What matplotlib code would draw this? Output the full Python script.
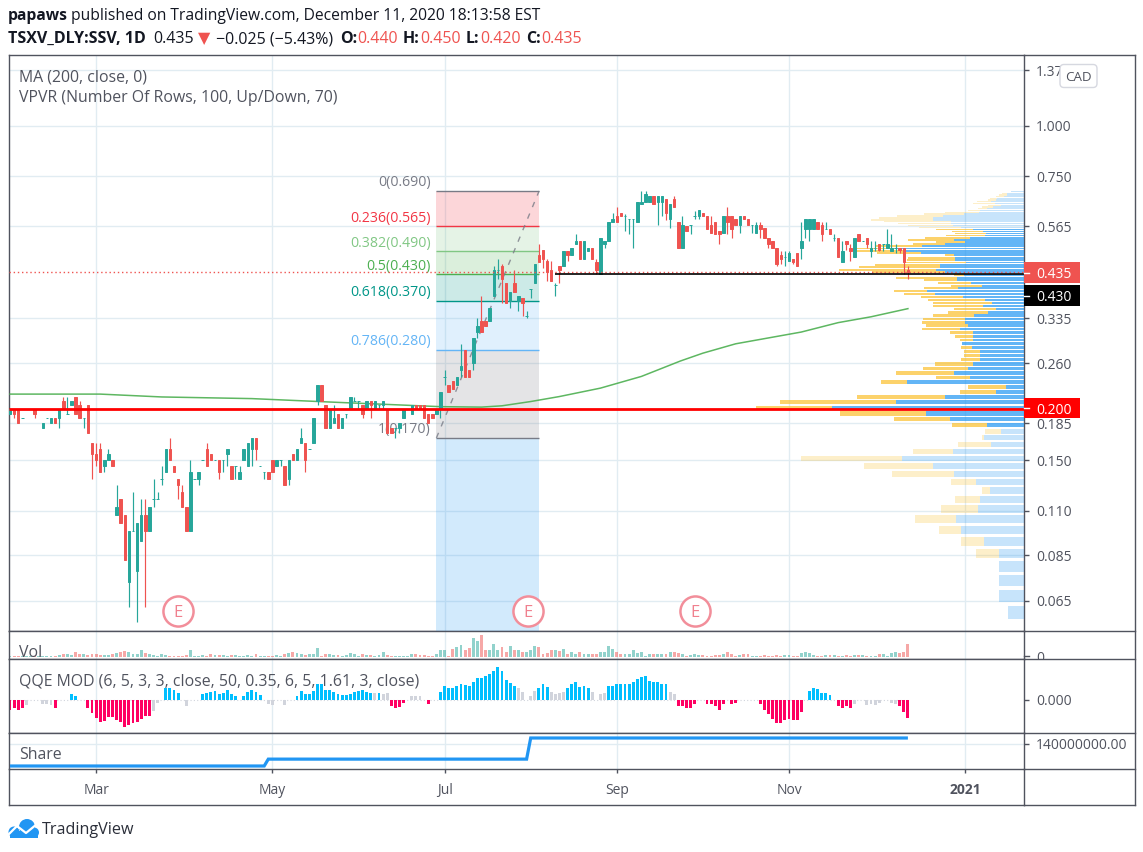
import matplotlib
matplotlib.use("Agg")
import matplotlib.pyplot as plt
from matplotlib.patches import Rectangle, FancyBboxPatch, Circle
from matplotlib.lines import Line2D
from matplotlib.ticker import FixedLocator, NullLocator, FixedFormatter
from matplotlib.transforms import Bbox

W, H = 1143, 852
plt.rcParams['font.family'] = ['Open Sans', 'DejaVu Sans']

opens = [.195,.20,.20,.19,.20,.20,.20,.20,.18,.19,.185,.19,.19,.21,.195,.205,.215,.205,.19,.205,
 .165,.155,.16,.145,.15,.15,.11,.12,.11,.075,.10,.08,.095,.11,.10,.12,.12,.135,.14,.16,
 .145,.135,.125,.115,.10,.135,.135,.15,.16,.155,.15,.15,.15,.155,.145,.145,.135,.15,.145,.16,
 .17,.145,.14,.14,.15,.145,.15,.145,.135,.155,.15,.165,.165,.16,.165,.21,.23,.205,.18,.185,
 .195,.18,.195,.20,.21,.21,.205,.20,.21,.20,.205,.205,.20,.18,.18,.18,.19,.20,.195,.205,
 .205,.205,.195,.195,.195,.20,.24,.23,.235,.23,.25,.28,.25,.26,.31,.33,.33,.33,.38,.44,
 .45,.41,.37,.41,.37,.375,.34,.395,.41,.48,.495,.465,.44,.405,.45,.45,.49,.48,.51,.52,
 .47,.49,.50,.46,.43,.51,.52,.58,.60,.61,.60,.59,.59,.58,.64,.65,.65,.67,.65,.65,
 .66,.59,.66,.58,.50,.565,.57,.60,.60,.61,.60,.57,.58,.55,.545,.60,.60,.59,.57,.60,
 .59,.57,.545,.57,.56,.53,.52,.50,.48,.475,.465,.47,.485,.50,.555,.555,.555,.58,.57,.555,
 .555,.53,.53,.46,.52,.50,.475,.54,.52,.53,.49,.50,.51,.51,.50,.49,.50,.50,.50,.44]
highs = [.20,.20,.20,.19,.20,.20,.20,.20,.185,.19,.19,.19,.20,.215,.215,.21,.215,.21,.19,.205,
 .165,.165,.165,.15,.16,.15,.13,.12,.11,.10,.125,.105,.12,.12,.115,.135,.125,.145,.16,.17,
 .145,.135,.13,.115,.15,.135,.14,.15,.165,.155,.15,.15,.15,.16,.145,.145,.145,.16,.165,.17,
 .17,.145,.14,.14,.15,.15,.15,.145,.15,.155,.16,.18,.165,.16,.19,.23,.23,.205,.20,.205,
 .195,.19,.195,.215,.215,.21,.205,.21,.21,.21,.205,.21,.20,.18,.18,.185,.20,.20,.205,.205,
 .205,.205,.195,.195,.20,.22,.25,.23,.235,.24,.29,.28,.25,.30,.335,.38,.33,.355,.45,.47,
 .455,.41,.39,.44,.38,.375,.35,.395,.455,.51,.495,.47,.465,.41,.45,.49,.49,.50,.54,.52,
 .52,.50,.50,.47,.53,.52,.58,.61,.63,.61,.605,.59,.59,.65,.69,.69,.67,.67,.67,.67,
 .66,.64,.67,.58,.60,.565,.57,.615,.62,.61,.60,.60,.58,.55,.60,.63,.60,.59,.60,.60,
 .59,.57,.58,.58,.56,.53,.52,.50,.49,.49,.49,.47,.485,.58,.59,.59,.59,.58,.58,.58,
 .555,.54,.53,.52,.52,.51,.53,.54,.52,.53,.52,.52,.51,.51,.555,.54,.51,.50,.50,.45]
lows = [.195,.19,.185,.19,.20,.20,.19,.20,.18,.19,.185,.185,.18,.20,.195,.205,.195,.19,.18,.175,
 .135,.145,.14,.14,.15,.145,.11,.105,.085,.065,.10,.06,.095,.065,.10,.115,.12,.13,.14,.15,
 .14,.12,.115,.10,.10,.135,.13,.15,.145,.15,.15,.135,.14,.145,.135,.135,.135,.15,.145,.145,
 .15,.145,.135,.135,.14,.145,.145,.13,.13,.15,.15,.165,.14,.16,.165,.205,.21,.18,.18,.185,
 .18,.18,.19,.20,.21,.20,.19,.20,.19,.20,.20,.20,.175,.175,.17,.175,.19,.20,.195,.20,
 .20,.19,.185,.19,.195,.19,.23,.22,.225,.23,.24,.24,.24,.25,.30,.31,.32,.33,.38,.42,
 .365,.365,.355,.39,.35,.34,.335,.375,.41,.46,.445,.415,.415,.38,.41,.45,.465,.48,.51,.47,
 .47,.49,.47,.43,.43,.50,.52,.58,.58,.60,.55,.54,.50,.58,.64,.65,.65,.64,.57,.60,
 .585,.56,.63,.50,.50,.55,.54,.59,.59,.60,.555,.545,.54,.51,.545,.54,.53,.57,.545,.59,
 .57,.545,.545,.53,.53,.50,.50,.45,.455,.45,.465,.455,.45,.47,.53,.52,.555,.555,.52,.555,
 .54,.52,.475,.46,.495,.465,.475,.52,.52,.50,.475,.49,.49,.49,.50,.49,.485,.485,.43,.42]
closes = [.20,.195,.185,.19,.20,.20,.195,.20,.185,.19,.19,.185,.20,.20,.195,.21,.195,.19,.19,.175,
 .155,.15,.14,.15,.155,.145,.115,.105,.085,.10,.10,.105,.11,.10,.115,.12,.12,.135,.16,.15,
 .14,.13,.115,.10,.14,.135,.14,.15,.145,.15,.15,.14,.15,.16,.135,.145,.14,.16,.165,.17,
 .16,.145,.14,.135,.14,.15,.15,.13,.15,.15,.16,.17,.15,.16,.19,.23,.21,.18,.20,.19,
 .18,.19,.195,.215,.21,.21,.195,.21,.205,.21,.205,.21,.175,.175,.18,.185,.20,.20,.205,.20,
 .20,.19,.185,.19,.20,.22,.24,.22,.225,.24,.255,.24,.24,.30,.32,.31,.32,.355,.44,.44,
 .42,.365,.39,.39,.38,.365,.34,.395,.455,.46,.47,.435,.415,.405,.44,.49,.48,.50,.52,.47,
 .52,.50,.47,.44,.53,.52,.58,.59,.58,.60,.60,.59,.59,.65,.65,.68,.67,.64,.67,.67,
 .61,.64,.63,.50,.57,.55,.57,.60,.62,.60,.555,.545,.54,.54,.60,.58,.555,.57,.60,.59,
 .57,.57,.57,.555,.53,.51,.50,.455,.47,.475,.485,.46,.45,.52,.59,.59,.59,.555,.54,.555,
 .54,.53,.475,.49,.51,.49,.53,.52,.52,.51,.50,.50,.495,.51,.51,.50,.50,.495,.46,.435]

volumes = [4,4,4,4,4,3,3,3,3,4, 4,4,6,8,8,6,14,10,8,6, 10,8,6,6,5,10,12,15,17,14,
 10,8,20,12,8,6,4,8,6,4, 4,4,4,6,20,2,4,5,4,8, 6,5,7,4,5,6,4,4,5,4,
 10,4,4,4,4,6,4,10,12,14, 12,10,6,8,10,26,4,8,8,6, 6,4,6,12,8,4,10,5,6,4,
 6,14,5,4,4,4,4,4,8,8, 6,6,4,4,8, 20,20,3,24,30,36,22,26,56,48,65,20,20,38,20,30,14,32,22,20,
 16,14,20,32,30,10,12,22,20,18, 24,8,16,8,14,10,10,8,10,16, 16,32,24,14,8,10,8,22,12,16,
 4,10,10,10,10,10,14,14,12,8, 4,5,8,7,7,4,4,6,6,8, 16,10,4,6,8,8,4,4,4,6,
 4,4,6,4,6,6,4,4,12,14, 12,6,3,4,6,6,6,4,3,6, 4,6,6,6,4,4,4,8,10,4, 12,16,12,16,40]

qqe_values = [-32,-26,-30,-26,-16,0,0,0,-12,-14, -16,-24,0,0,0,16,10,0,0,-24,
 -40,-55,-68,-64,-53,-53,-60,-68,-82,-75, -70,-66,-58,-50,-50,-34,-10,0,34,34,
 28,20,0,-20,0,0,0,16,20,22, 25,18,20,28,18,12,0,12,22,30,
 24,13,0,-12,-16,0,0,-16,0,0, 10,25,18,16,25,46,46,30,28,24,
 18,14,14,16,24,26,28,22,20,20, 20,16,20,-20,-25,-22,-10,0,10,12,
 12,0,-13,0,0,22,40,36,34,40, 48,44,40,54,66,66,70,78,85,97,
 85,60,50,42,34,22,0,12,27,36, 46,38,22,16,20,24,36,46,52,38,
 40,34,22,0,16,20,40,40,46,48, 46,46,54,62,68,70,56,52,52,46,
 46,22,16,-20,-20,-24,-24,-14,0,0, -14,-12,-20,-32,-14,0,-12,-10,0,0,
 0,0,0,-14,-30,-44,-58,-70,-70,-62, -58,-60,-62,-36,0,26,34,32,20,20,
 14,0,-18,-26,-20,-26,-14,0,0,-16, -14,-16,-10,0,0,-10,-14,-20,-36,-54]
qqe_neutral = [4,8,9,10,35,36,43,63,64,67,89,91,92,98,99,100,124,125,127,128,132,133,134,135,
 142,144,145,161,162,206,209,210,211,212,215,216]

share_levels = [104e6, 115e6, 148.8e6]
share_bars = [63, 64, 93]

ma_index = [0,22,37,59,80,95,105,115,120,127,134,144,154,163.5,169,177,193,202,210,219]
ma_price = [.218,.218,.2145,.2125,.208,.205,.203,.2025,.204,.209,.215,.2255,.241,.263,.275,.29,.31,.327,.338,.354]

vp_low, vp_step = 0.06, 0.0063
vp_up = [16,25,25,25,25,40,63,68,46,44,34,48,70,91,122,71,33,40,23,37,74,98,192,128,
 79,28,18,117,54,70,56,51,44,44,44,52,62,51,51,51,
 64,56,59,59,50,36,28,41,32,39,61,89,97,66,42,53,67,67,
 60,79,88,84,84,58,
 69,69,70,103,121,129,102,79,59,70,54,39,38,41,51,
 63,71,73,73,91,91,81,60,45,44,37,31,23,29,33,28,27,20,17,17,13]
vp_down = [0,0,0,0,23,23,22,41,37,25,8,25,62,69,101,40,33,2,16,35,56,86,76,116,
 88,36,38,26,34,58,45,38,19,16,16,11,0,13,18,23,
 38,42,43,42,41,40,42,50,59,57,42,31,33,34,31,33,33,61,
 10,73,97,81,65,62,
 48,47,9,44,48,40,46,32,29,46,45,39,31,31,37,
 42,45,53,67,62,54,46,40,34,12,9,11,13,22,14,8,7,8,8,5,0]
vp_value_area = (19, 78)

fib_ratio = ['0', '0.236', '0.382', '0.5', '0.618', '0.786', '1']
fib_price = [.69, .565, .49, .43, .37, .28, .17]
fib_color = ['#787b86', '#f23645', '#81c784', '#4caf50', '#009688', '#64b5f6', '#787b86']
fib_span = (104.0, 129.05)

price_ticks = [1.37, 1.0, .75, .565, .335, .26, .185, .15, .1125, .0875, .0675]
price_labels = ['1.37', '1.000', '0.750', '0.565', '0.335', '0.260', '0.185', '0.150', '0.110', '0.085', '0.065']
month_ticks = [21, 64, 106, 148, 190, 233]
month_labels = ['Mar', 'May', 'Jul', 'Sep', 'Nov', '2021']
earnings_index = [41, 126.3, 167]
earnings_price = .0637
support_price, resistance_price, last_price = .20, .43, .435

assert all(len(a) == 220 for a in (opens, highs, lows, closes, volumes, qqe_values))
assert len(vp_up) == len(vp_down) == 100

TEAL, RED = '#26a69a', '#ef5350'
FRAME, GRID, TXT = '#50535e', '#e1ecf2', '#50535e'
L, R = 9, 1024
XLIM = ((L - 10) / 4.1, (R - 10) / 4.1)
PRICE_LIM = (0.05686, 1.4925)


def panel(top, bottom, zorder=1):
    a = fig.add_axes([L / W, 1 - bottom / H, (R - L) / W, (bottom - top) / H], zorder=zorder)
    a.set_xlim(*XLIM)
    return a


def style(a):
    for s in a.spines.values():
        s.set_color(FRAME)
        s.set_linewidth(1.0)
    a.xaxis.set_major_locator(FixedLocator(month_ticks))
    a.grid(True, axis='x', color=GRID, lw=1)
    a.set_axisbelow(True)
    a.tick_params(axis='x', length=0, labelbottom=False)
    a.yaxis.tick_right()
    a.tick_params(axis='y', colors=FRAME, length=3.6, width=1, pad=5, labelsize=10, labelcolor=TXT)


fig = plt.figure(figsize=(W / 100, H / 100), dpi=100, facecolor='white')

# ---- price pane, grid layer
ax = panel(55, 631, 1)
ax.set_yscale('log')
ax.set_ylim(*PRICE_LIM)
style(ax)
ax.yaxis.set_major_locator(FixedLocator(price_ticks))
ax.yaxis.set_major_formatter(FixedFormatter(price_labels))
ax.yaxis.set_minor_locator(NullLocator())
ax.grid(True, axis='y', color=GRID, lw=1)

# ---- volume profile layer
vp = ax.twiny()
vp.set_zorder(2)
vp.set_xlim(R - L, 0)
vp.axis('off')
for k, (u, d) in enumerate(zip(vp_up, vp_down)):
    lo = vp_low + vp_step * k
    al = .7 if vp_value_area[0] <= k <= vp_value_area[1] else .25
    vp.barh(lo + .12 * vp_step, u, height=.76 * vp_step, align='edge', color='#2196f3', alpha=al, lw=0)
    if d:
        vp.barh(lo + .12 * vp_step, d, left=u, height=.76 * vp_step, align='edge', color='#fbc02d', alpha=al, lw=0)

# ---- candles layer
cx = panel(55, 631, 3)
cx.set_yscale('log')
cx.set_ylim(*PRICE_LIM)
cx.axis('off')
cx.patch.set_visible(False)

edges = fib_price
a0, a1 = fib_span
for hi, lo, col in zip(edges[:-1], edges[1:], fib_color[1:]):
    cx.fill_between([a0, a1], lo, hi, color=col, alpha=.2, lw=0, zorder=1)
cx.fill_between([a0, a1], PRICE_LIM[0], edges[-1], color='#2196f3', alpha=.2, lw=0, zorder=1)
cx.hlines(fib_price, a0, a1, colors=fib_color, lw=1, zorder=1.5)
cx.plot([a0, a1], [fib_price[-1], fib_price[0]], color='#787b86', lw=1, ls=(0, (4, 5)), alpha=.8, zorder=1.6)
for r_, p_, c_ in zip(fib_ratio, fib_price, fib_color):
    cx.annotate(f'{r_}({p_:.3f})', (a0, p_), xytext=(-4, 0.4), textcoords='offset points', ha='right', va='bottom',
                fontsize=10.2, color=c_, zorder=1.7)

cx.plot(ma_index, ma_price, color='#4caf50', lw=1.1, alpha=.9, zorder=2)

for i, (o, h, l, c) in enumerate(zip(opens, highs, lows, closes)):
    col = TEAL if c >= o else RED
    cx.vlines(i, l, h, colors=col, lw=.85, zorder=3)
    cx.bar(i, max(abs(c - o), 1e-6), bottom=min(o, c), width=.62, color=col, edgecolor=col, lw=.7, zorder=3)

cx.hlines(last_price, XLIM[0], XLIM[1], colors=RED, lw=1, linestyles=(0, (1, 2)), zorder=4)
cx.hlines(resistance_price, 133, XLIM[1], colors='black', lw=1.2, zorder=4)
cx.hlines(support_price, XLIM[0], XLIM[1], colors='#ff0000', lw=2, zorder=4)

cx.scatter(earnings_index, [earnings_price] * 3, s=470, facecolor='white', edgecolor='#f28e9a', lw=1.8, zorder=5)
for e in earnings_index:
    cx.text(e, earnings_price, 'E', ha='center', va='center_baseline', color='#f0808e', fontsize=12, zorder=6)

# ---- volume pane
av = panel(631, 659, 1)
style(av)
av.set_ylim(-6, 78)
av.bar(range(220), volumes, width=.72,
       color=[TEAL if c >= o else RED for o, c in zip(opens, closes)], alpha=.5, lw=0)
av.set_yticks([])

# ---- QQE pane
aq = panel(659, 733, 1)
style(aq)
aq.set_ylim(-100.5, 121.5)
qqe_cols = ['#d1d4dc' if i in qqe_neutral else ('#00bfff' if v > 0 else '#ff0062') for i, v in enumerate(qqe_values)]
aq.bar(range(220), qqe_values, width=.72, color=qqe_cols, lw=0)
aq.hlines(0, 0, 219, colors='#d1d4dc', lw=.8, linestyles=(0, (1, 2)), zorder=0.5)
aq.set_yticks([0])
aq.set_yticklabels(['0.000'])

# ---- Share pane
ash = panel(733, 769, 1)
style(ash)
ash.set_ylim(140e6 - 25.5 * 1.6e6, 140e6 + 10.5 * 1.6e6)
share = []
for lev, n in zip(share_levels, share_bars):
    share += [lev] * n
ash.plot(range(220), share, color='#2196f3', lw=2.3, solid_joinstyle='miter', solid_capstyle='butt', zorder=3)
ash.set_yticks([140e6])
ash.set_yticklabels(['140000000.00'])
ash.grid(True, axis='y', color=GRID, lw=1)
ash.tick_params(axis='x', length=2.9, width=1, color=FRAME, labelbottom=True, pad=7.5, labelsize=10, labelcolor=TXT)
ash.set_xticklabels(month_labels)
ash.get_xticklabels()[-1].set_fontweight('bold')


# ---- frame decoration
def fline(xs, ys, **kw):
    fig.add_artist(Line2D([x / W for x in xs], [1 - y / H for y in ys], color=kw.pop('color', FRAME),
                          lw=kw.pop('lw', 1.0), zorder=kw.pop('zorder', 9)))


for y_ in (55, 631, 659, 733, 769, 805):
    fline([R, 1134.5], [y_, y_])
fline([1134.5, 1134.5], [55, 805])
fline([L, L], [769, 805])
fline([R, R], [769, 805])
fline([L, R], [805, 805])


def ftext(x, y, s, **kw):
    kw.setdefault('zorder', 12)
    return fig.text(x / W, 1 - y / H, s, **kw)


# clipped zero of the volume scale
zero = ftext(1036, 657, '0', va='center_baseline', color=TXT, fontsize=10)
zero.set_clip_box(Bbox([[1030, H - 659], [1060, H - 631]]))
zero.set_clip_on(True)
fline([R, R + 5], [656, 656])

# price boxes
for y0, y1, bg, label in ((262, 283, RED, '0.435'), (285, 306, 'black', '0.430'), (398, 418.5, '#ff0000', '0.200')):
    fig.add_artist(Rectangle((R / W, 1 - y1 / H), 56 / W, (y1 - y0) / H, transform=fig.transFigure,
                             facecolor=bg, edgecolor='none', zorder=10))
    ym = (y0 + y1) / 2
    fline([R, R + 5], [ym, ym], color='white', zorder=11)
    ftext(1036, ym, label, va='center_baseline', color='white', fontsize=10)

# CAD pill
fig.add_artist(FancyBboxPatch((1060 / W, 1 - 87.5 / H), 37 / W, 23 / H,
                              boxstyle=f'round,pad=0,rounding_size={4 / W}', transform=fig.transFigure,
                              mutation_aspect=W / H, facecolor='white', edgecolor='#d6d8e0', lw=1, zorder=10))
ftext(1078.5, 76, 'CAD', ha='center', va='center_baseline', color=TXT, fontsize=9.6)

# legends
for y_, s_ in ((81, 'MA (200, close, 0)'), (102, 'VPVR (Number Of Rows, 100, Up/Down, 70)'),
               (657, 'Vol'), (686, 'QQE MOD (6, 5, 3, 3, close, 50, 0.35, 6, 5, 1.61, 3, close)'), (759, 'Share')):
    ftext(19, y_, s_, color=TXT, fontsize=11.4, va='baseline')

# header rows
BLK = '#131722'
for x_, s_, c_, w_ in ((8, 'papaws', BLK, 'bold'),
                       (71, 'published on TradingView.com, December 11, 2020 18:13:58 EST', BLK, 'normal')):
    ftext(x_, 20, s_, color=c_, fontweight=w_, fontsize=11.28, va='baseline')
for x_, s_, c_, w_ in ((8, 'TSXV_DLY:SSV, 1D', BLK, 'bold'), (153, '0.435', BLK, 'normal'), (198, '\u25bc', RED, 'normal'),
                       (216, '\u22120.025 (\u22125.43%)', BLK, 'normal'), (340, 'O:', BLK, 'bold'), (357, '0.440', RED, 'normal'),
                       (403, 'H:', BLK, 'bold'), (420, '0.450', RED, 'normal'), (466, 'L:', BLK, 'bold'),
                       (480, '0.420', RED, 'normal'), (526, 'C:', BLK, 'bold'), (541, '0.435', RED, 'normal')):
    ftext(x_, 43, s_, color=c_, fontweight=w_, fontsize=11.5, va='baseline')

# TradingView logo
lg = fig.add_axes([0, 0, 1, 1], zorder=13)
lg.set_xlim(0, W)
lg.set_ylim(H, 0)
lg.axis('off')
lg.patch.set_visible(False)
for cx_, cy_, r_ in ((27, 827, 8), (14, 832, 5.5), (34, 832.5, 5)):
    lg.add_patch(Circle((cx_, cy_), r_, color='#2196f3', lw=0))
lg.add_patch(Rectangle((10, 831), 28, 6.5, color='#2196f3', lw=0))
lg.plot([7, 17, 26, 37], [836, 826, 833, 824], color='white', lw=1.6)
ftext(42, 834, 'TradingView', color='#2a2e39', fontsize=11.6, va='baseline')

fig.savefig('out.png', dpi=100, facecolor='white')
